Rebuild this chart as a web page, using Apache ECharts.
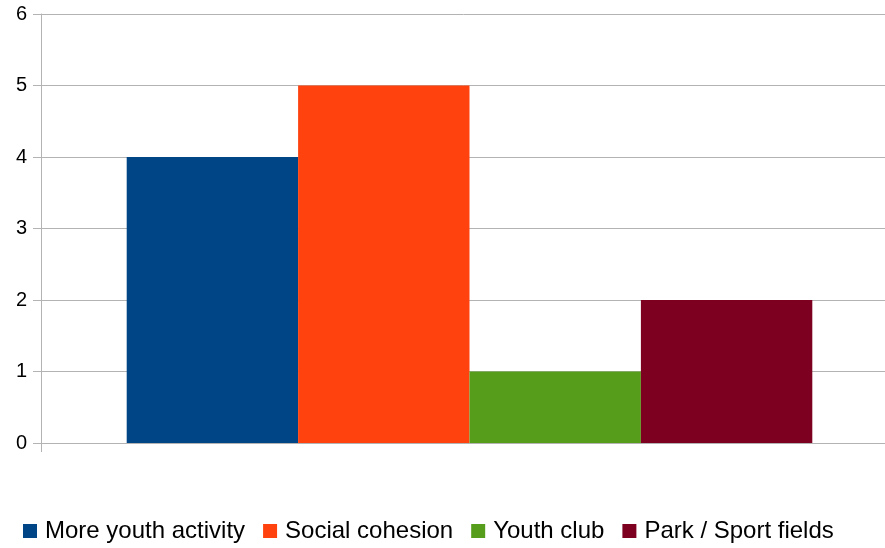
<!DOCTYPE html>
<html><head><meta charset="utf-8">
<script src="https://cdn.jsdelivr.net/npm/echarts@6/dist/echarts.min.js"></script>
<style>html,body{margin:0;padding:0;background:#fff}#c{width:885px;height:548px}</style>
</head><body><div id="c"></div>
<script>
const categories = [''];
const seriesNames = ['More youth activity', 'Social cohesion', 'Youth club', 'Park / Sport fields'];
const seriesValues = [[4], [5], [1], [2]];
const colors = ['#004586', '#ff420e', '#579d1c', '#7e0021'];
const yTicks = { min: 0, max: 6, interval: 1 };

const chart = echarts.init(document.getElementById('c'));
chart.setOption({
  animation: false,
  color: colors,
  textStyle: { fontFamily: 'Liberation Sans' },
  grid: { left: 41, width: 857, top: 14, bottom: 105, containLabel: false, outerBoundsMode: 'none' },
  legend: {
    top: 519, left: 23, padding: 0, icon: 'rect', itemWidth: 14, itemHeight: 14, itemGap: 18,
    textStyle: { fontSize: 24, lineHeight: 24, color: '#000', fontFamily: 'Liberation Sans', padding: [0, 0, 0, 3] },
    data: seriesNames
  },
  xAxis: {
    type: 'category', data: categories,
    axisLine: { lineStyle: { color: '#b3b3b3' } },
    axisTick: { show: true, length: 9, lineStyle: { color: '#b3b3b3' } },
    axisLabel: { show: false }
  },
  yAxis: {
    type: 'value', min: yTicks.min, max: yTicks.max, interval: yTicks.interval,
    axisLine: { show: true, lineStyle: { color: '#b3b3b3' } },
    axisTick: { show: true, length: 8, lineStyle: { color: '#b3b3b3' } },
    splitLine: { lineStyle: { color: '#b3b3b3' } },
    axisLabel: { fontSize: 20, color: '#000', margin: 14, fontFamily: 'Liberation Sans' }
  },
  series: seriesNames.map((n, i) => ({
    name: n, type: 'bar', data: seriesValues[i],
    barGap: '0%', barCategoryGap: '20%'
  }))
});
</script></body></html>
